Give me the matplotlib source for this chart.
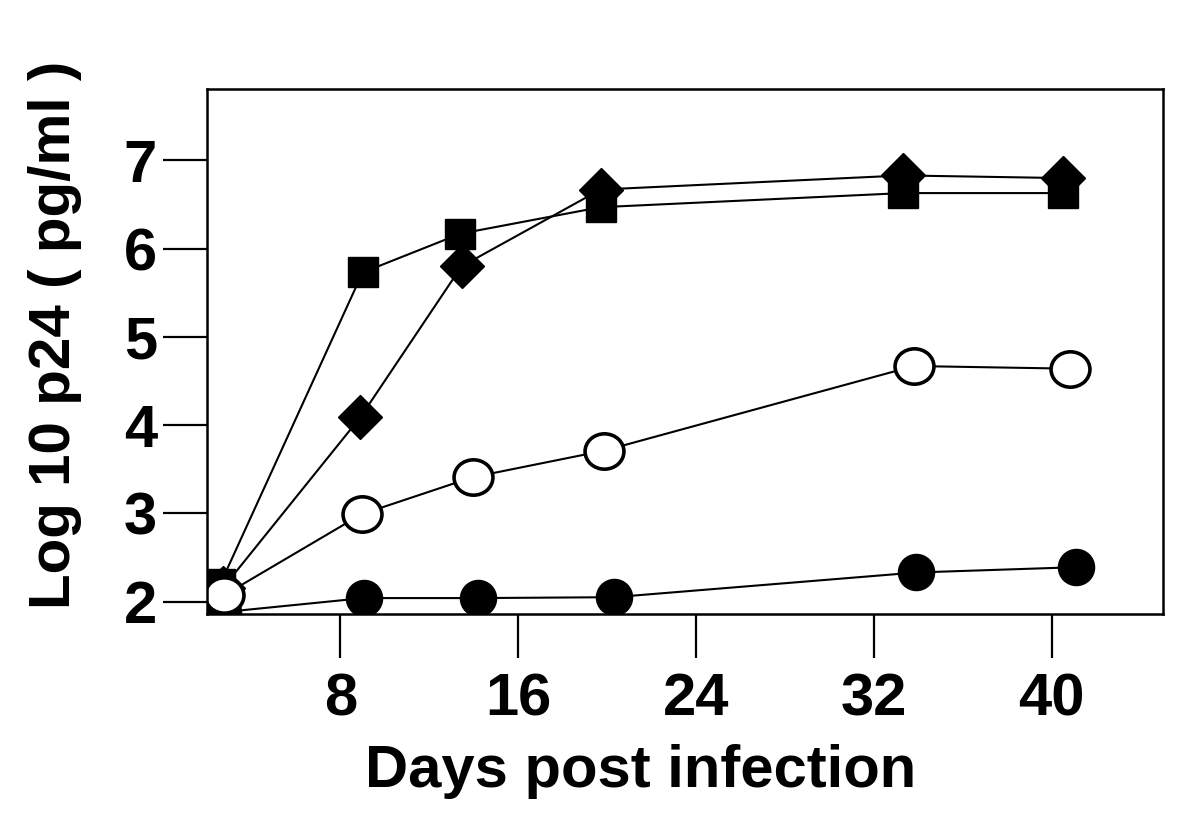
import numpy as np
import matplotlib
matplotlib.use("Agg")
import matplotlib.pyplot as plt
from matplotlib.path import Path
from matplotlib.markers import MarkerStyle

plt.rcParams['font.family'] = ['Liberation Sans', 'DejaVu Sans']
plt.rcParams['font.weight'] = 'bold'

# values (x has a small jitter per series)
sq_days = [2.6, 9.0, 13.4, 19.7, 33.3, 40.5]
sq_vals = [2.20, 5.73, 6.17, 6.47, 6.63, 6.63]

dia_days = [2.7, 8.9, 13.45, 19.7, 33.3, 40.5]
dia_vals = [2.15, 4.09, 5.80, 6.67, 6.83, 6.80]

open_days = [2.75, 8.95, 13.95, 19.85, 33.8, 40.8]
open_vals = [2.07, 2.99, 3.41, 3.71, 4.67, 4.64]

fill_days = [2.7, 9.05, 14.2, 20.3, 33.9, 41.1]
fill_vals = [1.88, 2.04, 2.04, 2.05, 2.33, 2.39]

x_ticks = [8, 16, 24, 32, 40]
y_ticks = [2, 3, 4, 5, 6, 7]

# slightly wide ellipse, like the open circles in the figure
circ = Path.unit_circle()
ellipse = MarkerStyle(Path(circ.vertices * [1.1, 1.0], circ.codes))

fig = plt.figure(figsize=(12, 8.23), dpi=100)
ax = fig.add_axes([0.1725, 0.254, 0.7967, 0.6379])

ax.plot(fill_days, fill_vals, color='black', lw=1.5, marker='o',
        ms=26, mfc='black', mec='black')
ax.plot(sq_days, sq_vals, color='black', lw=1.5, marker='s',
        ms=21, mfc='black', mec='black')
ax.plot(dia_days, dia_vals, color='black', lw=1.5, marker='D',
        ms=22, mfc='black', mec='black')
ax.plot(open_days, open_vals, color='black', lw=1.5, marker=ellipse,
        ms=28, mfc='white', mec='black', mew=2.6)

ax.set_xlim(2, 45)
ax.set_ylim(1.86, 7.81)
ax.set_xticks(x_ticks)
ax.set_yticks(y_ticks)

for s in ax.spines.values():
    s.set_linewidth(1.8)
ax.tick_params(direction='out', length=32, width=1.6, labelsize=43)
ax.tick_params(axis='x', pad=10)
ax.tick_params(axis='y', pad=4)

ax.text(0.454, -0.30, 'Days post infection', transform=ax.transAxes,
        ha='center', va='center', fontsize=43, fontweight='bold')
ax.text(-0.159, 0.531, 'Log 10 p24 ( pg/ml )', transform=ax.transAxes,
        ha='center', va='center', rotation=90, fontsize=42, fontweight='bold')

fig.savefig('out.png', dpi=100)
